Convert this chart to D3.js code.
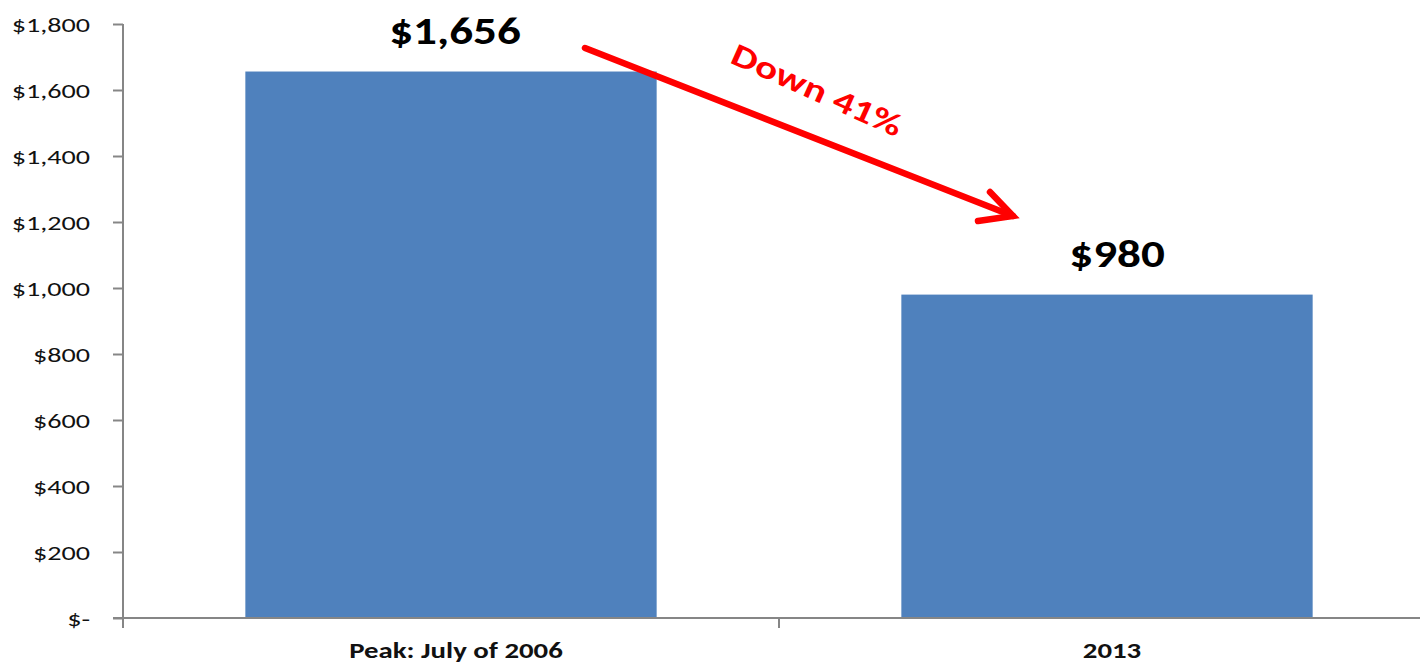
<!DOCTYPE html>
<html>
<head>
<meta charset="utf-8">
<script src="https://cdn.jsdelivr.net/npm/d3@7"></script>
<style>
  html, body { margin: 0; padding: 0; background: #fff; }
  svg { display: block; }
  text { font-family: Carlito, Lato, "Open Sans", sans-serif; }
</style>
</head>
<body>
<svg id="chart" width="1420" height="666"></svg>
<script>
// Average price values by period
const categories = ["Peak: July of 2006", "2013"];
const values = [1656, 980];
const valueLabels = ["$1,656", "$980"];
const yTicks = [0, 200, 400, 600, 800, 1000, 1200, 1400, 1600, 1800];
const changeLabel = "Down 41%";

const svg = d3.select("#chart");
const margin = { left: 123, right: -15, top: 24, bottom: 48 };
const W = 1420, H = 666;
// The text face runs wide; stretch glyphs horizontally
const SX = 1.34;
const SX_BIG = 1.24;

const x = d3.scaleBand()
  .domain(categories)
  .range([margin.left, W - margin.right])
  .paddingInner(0.373)
  .paddingOuter(0.1865);

const y = d3.scaleLinear()
  .domain([0, 1800])
  .range([H - margin.bottom, margin.top]);

const fmt = v => v === 0 ? "$-" : "$" + d3.format(",")(v);

// Bars
svg.selectAll("rect.bar")
  .data(values)
  .join("rect")
  .attr("class", "bar")
  .attr("x", (d, i) => x(categories[i]))
  .attr("width", x.bandwidth())
  .attr("y", d => y(d))
  .attr("height", d => y(0) - y(d))
  .attr("fill", "#4f81bd");

// Y axis
const yAxis = svg.append("g")
  .attr("transform", `translate(${margin.left},0)`)
  .call(d3.axisLeft(y).tickValues(yTicks).tickFormat(fmt).tickSize(10));
yAxis.select(".domain").attr("stroke", "#868686").attr("stroke-width", 2)
  .attr("d", `M0,${y(1800)}V${y(0) + 10}`);
yAxis.selectAll(".tick line").attr("stroke", "#868686").attr("stroke-width", 2);
yAxis.selectAll(".tick text")
  .attr("x", -33 / SX)
  .attr("dy", "0.34em")
  .attr("transform", `scale(${SX},1)`)
  .attr("fill", "#111")
  .style("font-size", "21px");

// X axis with ticks between categories
const xAxisG = svg.append("g").attr("transform", `translate(0,${y(0)})`);
xAxisG.append("line")
  .attr("x1", margin.left - 10).attr("x2", W)
  .attr("stroke", "#868686").attr("stroke-width", 2);
const step = x.step();
const boundaries = [x(categories[0]) - x.paddingOuter() * step + step];
xAxisG.selectAll("line.sep")
  .data(boundaries)
  .join("line")
  .attr("class", "sep")
  .attr("x1", d => d).attr("x2", d => d)
  .attr("y1", 0).attr("y2", 10)
  .attr("stroke", "#868686").attr("stroke-width", 2);
xAxisG.selectAll("g.cat")
  .data(categories)
  .join("g")
  .attr("class", "cat")
  .attr("transform", d => `translate(${x(d) + x.bandwidth() / 2 + 5},40) scale(${SX},1)`)
  .append("text")
  .attr("text-anchor", "middle")
  .attr("fill", "#111")
  .style("font-weight", "bold")
  .style("font-size", "21.5px")
  .text(d => d);

// Value labels above bars
const labelDx = [4, 10];
svg.selectAll("g.val")
  .data(values)
  .join("g")
  .attr("class", "val")
  .attr("transform", (d, i) =>
    `translate(${x(categories[i]) + x.bandwidth() / 2 + labelDx[i]},${y(d) - 28}) scale(${SX_BIG},1)`)
  .append("text")
  .attr("text-anchor", "middle")
  .attr("fill", "#000")
  .style("font-weight", "bold")
  .style("font-size", "38px")
  .text((d, i) => valueLabels[i]);

// Trend arrow with open head
const a0 = [585, 48], a1 = [1013, 216];
const arrow = svg.append("g").attr("stroke", "#ff0000").attr("stroke-width", 6.5)
  .attr("stroke-linecap", "round").attr("fill", "none");
arrow.append("line")
  .attr("x1", a0[0]).attr("y1", a0[1]).attr("x2", a1[0]).attr("y2", a1[1]);
arrow.append("path")
  .attr("stroke-linejoin", "miter")
  .attr("d", `M990,192L${a1[0]},${a1[1]}L978,221`);

svg.append("g")
  .attr("transform", `translate(817,90) rotate(24.2) scale(1.3,1)`)
  .append("text")
  .attr("text-anchor", "middle")
  .attr("dominant-baseline", "central")
  .attr("fill", "#ff0000")
  .style("font-weight", "bold")
  .style("font-size", "32px")
  .text(changeLabel);
</script>
</body>
</html>
